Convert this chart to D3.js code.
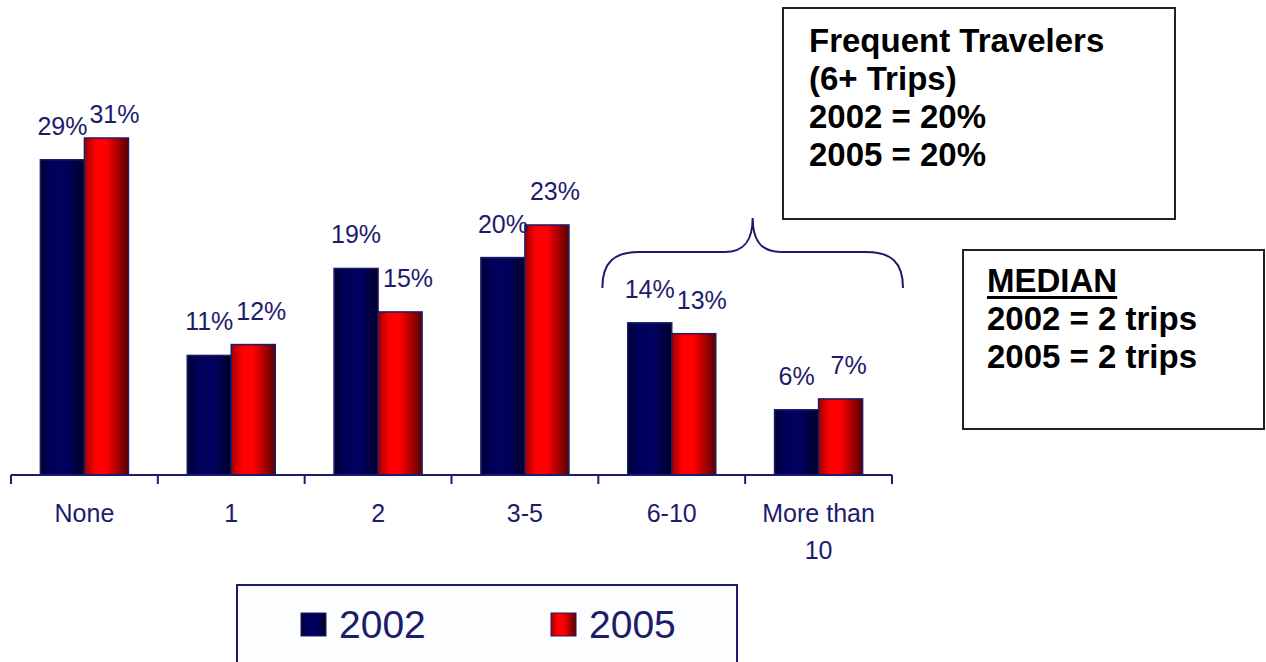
<!DOCTYPE html>
<html>
<head>
<meta charset="utf-8">
<script src="https://cdn.jsdelivr.net/npm/d3@7"></script>
<style>
  body { margin: 0; background: #fff; }
  text { font-family: "Liberation Sans", Arial, Helvetica, sans-serif; }
  .lbl { fill: #1c1c6c; font-size: 25px; }
  .note { fill: #000; font-size: 33px; font-weight: bold; }
</style>
</head>
<body>
<svg width="1266" height="662"></svg>
<script>
// trip categories and share of respondents (%)
const categories = ["None", "1", "2", "3-5", "6-10", "More than 10"];
const years = ["2002", "2005"];
const values2002 = [29, 11, 19, 20, 14, 6];
const values2005 = [31, 12, 15, 23, 13, 7];
const frequentLines = ["Frequent Travelers", "(6+ Trips)", "2002 = 20%", "2005 = 20%"];
const medianLines = ["MEDIAN", "2002 = 2 trips", "2005 = 2 trips"];

const svg = d3.select("svg");
const navy = "#1c1c6c";

// gradients, cylinder look
const defs = svg.append("defs");
function grad(id, stops) {
  const lg = defs.append("linearGradient").attr("id", id)
    .attr("x1", "0%").attr("x2", "100%").attr("y1", "0%").attr("y2", "0%");
  stops.forEach(s => lg.append("stop").attr("offset", s[0]).attr("stop-color", s[1]));
}
grad("g2002", [["0%", "#000030"], ["25%", "#00005c"], ["60%", "#00005e"], ["100%", "#000028"]]);
grad("g2005", [["0%", "#a00000"], ["25%", "#ff0000"], ["50%", "#ff0000"], ["100%", "#580000"]]);

const data = categories.map((c, i) => ({cat: c, vals: [values2002[i], values2005[i]]}));

const x0 = d3.scaleBand().domain(categories).range([11, 892]).padding(0);
const x1 = d3.scaleBand().domain(years).range([0, x0.bandwidth()]).paddingInner(0).paddingOuter(0.668);
const y = d3.scaleLinear().domain([0, 31]).range([475, 138]);

// bars
const groups = svg.append("g").selectAll("g")
  .data(data).enter().append("g")
  .attr("transform", d => `translate(${x0(d.cat)},0)`);

groups.selectAll("rect")
  .data(d => d.vals.map((v, j) => ({year: years[j], v: v})))
  .enter().append("rect")
  .attr("x", d => x1(d.year))
  .attr("y", d => y(d.v))
  .attr("width", x1.bandwidth())
  .attr("height", d => y(0) - y(d.v))
  .attr("fill", d => `url(#g${d.year})`)
  .attr("stroke", navy)
  .attr("stroke-width", 1.5);

// value labels
groups.selectAll("text.val")
  .data(d => d.vals.map((v, j) => ({year: years[j], v: v})))
  .enter().append("text")
  .attr("class", "lbl val")
  .attr("text-anchor", "middle")
  .attr("x", d => x1(d.year) + x1.bandwidth() / 2 + (d.year === "2005" ? 8 : 0))
  .attr("y", d => Math.max(y(d.v) - 25, 123))
  .text(d => d.v + "%");

// x axis
const axis = svg.append("g").attr("transform", `translate(0,${y(0)})`);
axis.append("line").attr("x1", 11).attr("x2", 892)
  .attr("stroke", navy).attr("stroke-width", 2);
const tickPos = categories.map(c => x0(c)).concat([x0.range()[1]]);
axis.selectAll("line.tick").data(tickPos).enter().append("line")
  .attr("x1", d => d).attr("x2", d => d).attr("y1", 0).attr("y2", 9)
  .attr("stroke", navy).attr("stroke-width", 2);

axis.selectAll("text.cat").data(categories).enter().append("text")
  .attr("class", "lbl cat")
  .attr("text-anchor", "middle")
  .attr("x", d => x0(d) + x0.bandwidth() / 2)
  .attr("y", 47)
  .each(function(d) {
    const t = d3.select(this);
    const parts = d === "More than 10" ? ["More than", "10"] : [d];
    parts.forEach((p, k) => t.append("tspan")
      .attr("x", x0(d) + x0.bandwidth() / 2)
      .attr("dy", k === 0 ? 0 : 37)
      .text(p));
  });

// brace over 6+ trips
const bl = x0("6-10") + 4;
const br = x0("More than 10") + x0.bandwidth() + 11;
const bm = (bl + br) / 2;
const by = 252;
svg.append("path")
  .attr("d", `M${bl},288 C${bl},262 ${bl + 12},${by} ${bl + 37},${by} L${bm - 28},${by}
    C${bm - 8},${by} ${bm},${by - 12} ${bm},218 C${bm},${by - 12} ${bm + 8},${by} ${bm + 28},${by}
    L${br - 37},${by} C${br - 12},${by} ${br},262 ${br},288`)
  .attr("fill", "none").attr("stroke", navy).attr("stroke-width", 2);

// Frequent travelers box
svg.append("rect").attr("x", 783).attr("y", 8).attr("width", 392).attr("height", 211)
  .attr("fill", "#fff").attr("stroke", "#222").attr("stroke-width", 2);
svg.append("g").selectAll("text").data(frequentLines).enter().append("text")
  .attr("class", "note").attr("x", 809).attr("y", (d, i) => 52 + i * 38).text(d => d);

// median box
svg.append("rect").attr("x", 963).attr("y", 250).attr("width", 301).attr("height", 179)
  .attr("fill", "#fff").attr("stroke", "#222").attr("stroke-width", 2);
const med = svg.append("g");
med.selectAll("text").data(medianLines).enter().append("text")
  .attr("class", "note").attr("x", 987).attr("y", (d, i) => 292 + i * 38).text(d => d);
const mw = med.select("text").node().getComputedTextLength();
med.append("rect").attr("x", 987).attr("y", 296).attr("width", mw).attr("height", 3).attr("fill", "#000");

// legend
const leg = svg.append("g");
leg.append("rect").attr("x", 237).attr("y", 585).attr("width", 500).attr("height", 120)
  .attr("fill", "#fcfdff").attr("stroke", navy).attr("stroke-width", 2);
const legX = [301, 551];
years.forEach((yr, i) => {
  leg.append("rect").attr("x", legX[i]).attr("y", 613).attr("width", 25).attr("height", 23)
    .attr("fill", `url(#g${yr})`).attr("stroke", navy).attr("stroke-width", 1);
  leg.append("text").attr("x", legX[i] + 38).attr("y", 638)
    .attr("fill", navy).style("font-size", "39px").text(yr);
});
</script>
</body>
</html>
